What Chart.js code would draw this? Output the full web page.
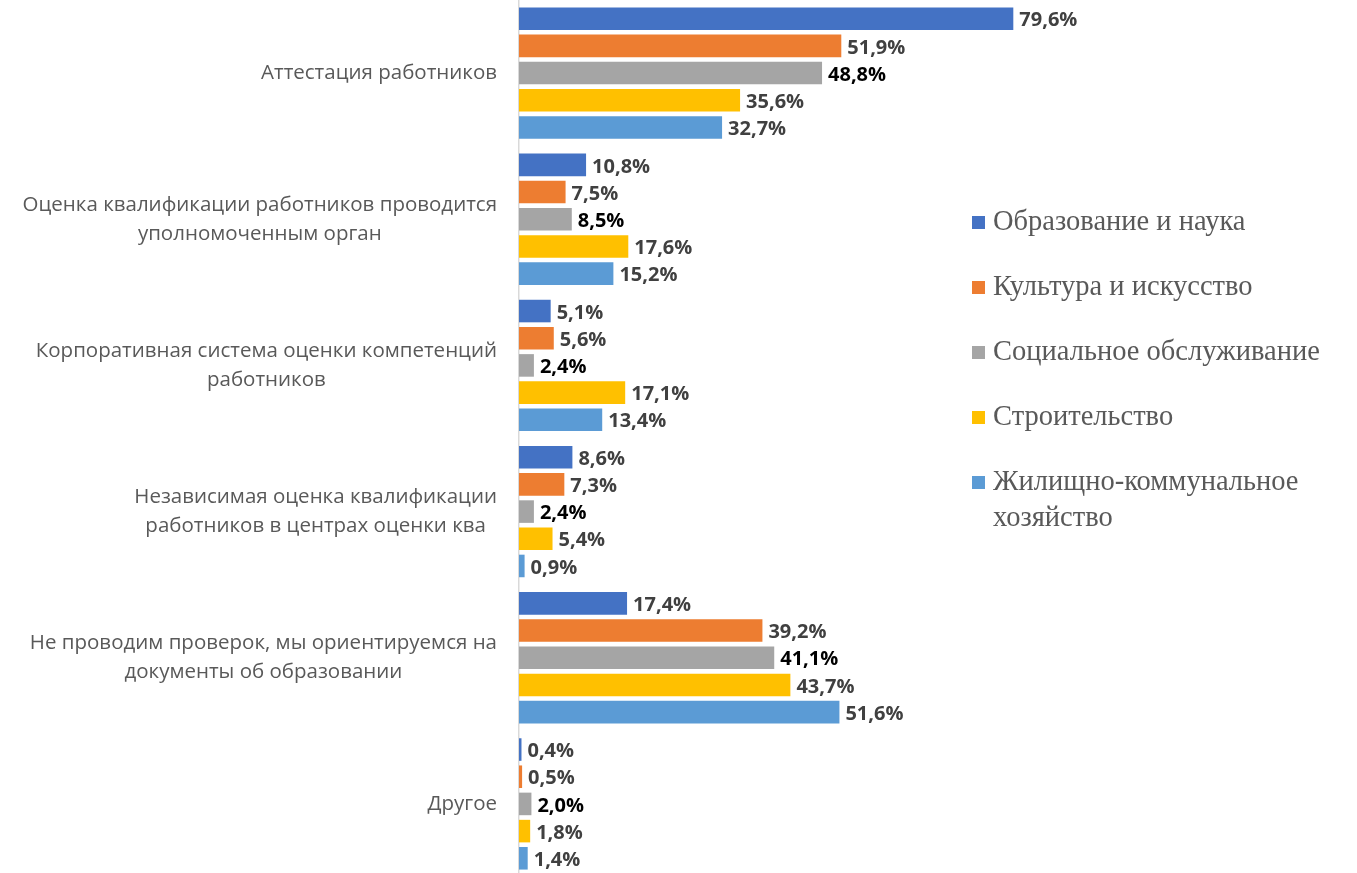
<!DOCTYPE html>
<html>
<head>
<meta charset="utf-8">
<script src="https://cdn.jsdelivr.net/npm/chart.js@4.4.1/dist/chart.umd.min.js"></script>
<style>
  html, body { margin: 0; padding: 0; background: #fff; overflow: hidden; }
  #wrap { position: relative; width: 1357px; height: 873px; overflow: hidden; }
  #legend { position: absolute; left: 970px; top: 203px; width: 387px;
    font-family: "Liberation Serif", "Times New Roman", serif; font-size: 28.5px; color: #595959; }
  .item { position: relative; padding-left: 23px; height: 65px; line-height: 36px; }
  .item span.box { position: absolute; left: 2px; top: 13px; width: 13px; height: 13px; }
</style>
</head>
<body>
<div id="wrap">
  <canvas id="chart" width="1357" height="877"></canvas>
  <div id="legend"></div>
</div>
<script>
const categories = [
  ['Аттестация работников'],
  ['Оценка квалификации работников проводится', 'уполномоченным орган'],
  ['Корпоративная система оценки компетенций', 'работников'],
  ['Независимая оценка квалификации', 'работников в центрах оценки ква'],
  ['Не проводим проверок, мы ориентируемся на', 'документы об образовании'],
  ['Другое']
];
const seriesNames = ['Образование и наука', 'Культура и искусство', 'Социальное обслуживание', 'Строительство', 'Жилищно-коммунальное хозяйство'];
const education = [79.6, 10.8, 5.1, 8.6, 17.4, 0.4];
const culture = [51.9, 7.5, 5.6, 7.3, 39.2, 0.5];
const social = [48.8, 8.5, 2.4, 2.4, 41.1, 2.0];
const construction = [35.6, 17.6, 17.1, 5.4, 43.7, 1.8];
const housing = [32.7, 15.2, 13.4, 0.9, 51.6, 1.4];
const colors = ['#4472C4', '#ED7D31', '#A5A5A5', '#FFC000', '#5B9BD5'];
const labelColors = ['#404040', '#404040', '#000000', '#404040', '#404040'];

const seriesData = [education, culture, social, construction, housing];

// labels at the end of each bar
const valueLabels = {
  id: 'valueLabels',
  afterDatasetsDraw(chart) {
    const ctx = chart.ctx;
    ctx.save();
    ctx.font = 'bold 20px "Open Sans"';
    ctx.textBaseline = 'middle';
    ctx.textAlign = 'left';
    chart.data.datasets.forEach((ds, i) => {
      const meta = chart.getDatasetMeta(i);
      meta.data.forEach((bar, j) => {
        ctx.fillStyle = labelColors[i];
        ctx.fillText(ds.data[j].toFixed(1).replace('.', ',') + '%', bar.x + 6, bar.y + 2);
      });
    });
    ctx.restore();
  }
};

// category labels: block right aligned, lines centred inside the block
const categoryLabels = {
  id: 'categoryLabels',
  afterDraw(chart) {
    const ctx = chart.ctx;
    const yScale = chart.scales.y;
    const right = chart.chartArea.left - 22;
    ctx.save();
    ctx.font = '20.5px "Open Sans"';
    ctx.fillStyle = '#595959';
    ctx.textAlign = 'center';
    ctx.textBaseline = 'middle';
    const lineH = 29;
    categories.forEach((lines, i) => {
      const y = yScale.getPixelForTick(i);
      const w = Math.max(...lines.map(l => ctx.measureText(l).width));
      const cx = right - w / 2;
      const top = y - (lines.length - 1) * lineH / 2;
      lines.forEach((l, k) => ctx.fillText(l, cx, top + k * lineH));
    });
    ctx.restore();
  }
};

const ctx = document.getElementById('chart');
new Chart(ctx, {
  type: 'bar',
  data: {
    labels: categories,
    datasets: seriesNames.map((name, i) => ({
      label: name,
      data: seriesData[i],
      backgroundColor: colors[i],
      categoryPercentage: 0.93,
      barPercentage: 0.83
    }))
  },
  options: {
    indexAxis: 'y',
    responsive: false,
    animation: false,
    layout: { padding: { left: 519, right: 217, top: 0, bottom: 0 } },
    plugins: { legend: { display: false }, tooltip: { enabled: false } },
    scales: {
      x: { display: false, min: 0, max: 100 },
      y: {
        ticks: { display: false },
        grid: { display: false, drawTicks: false },
        border: { display: true, color: '#d9d9d9', width: 1.5 }
      }
    }
  },
  plugins: [valueLabels, categoryLabels]
});

const legend = document.getElementById('legend');
seriesNames.forEach((name, i) => {
  const d = document.createElement('div');
  d.className = 'item';
  d.innerHTML = '<span class="box" style="background:' + colors[i] + '"></span>' + name;
  legend.appendChild(d);
});
</script>
</body>
</html>
